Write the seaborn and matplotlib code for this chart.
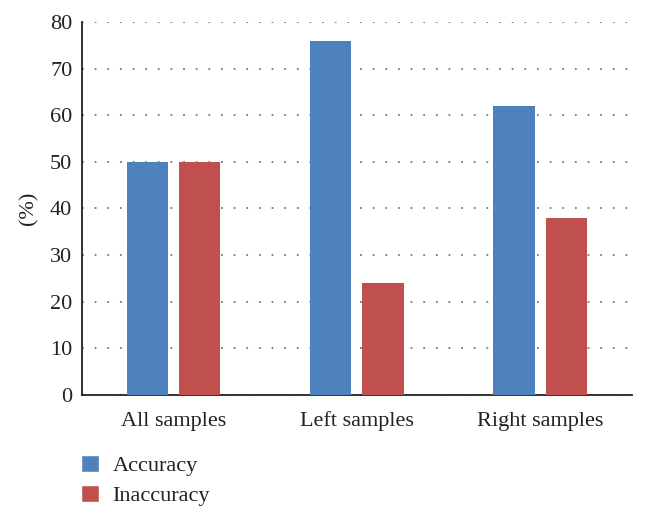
import pandas as pd
import seaborn as sns
import matplotlib.pyplot as plt
from matplotlib.patches import Patch

# Datos
categorias = ["All samples", "Left samples", "Right samples"]
accuracy = [50, 76, 62]
inaccuracy = [50, 24, 38]
series = ["Accuracy", "Inaccuracy"]
colores = {"Accuracy": "#4F81BD", "Inaccuracy": "#C0504D"}

df = pd.DataFrame({
    "Muestra": categorias * 2,
    "Valor": accuracy + inaccuracy,
    "Serie": [series[0]] * 3 + [series[1]] * 3,
})

sns.set_theme(style="white")
plt.rcParams["font.family"] = ["Liberation Serif", "DejaVu Serif"]

fig = plt.figure(figsize=(6.46, 5.21), dpi=100)
ax = fig.add_axes([0.127, 0.242, 0.851, 0.716])

sns.barplot(data=df, x="Muestra", y="Valor", hue="Serie", palette=colores,
            width=0.57, gap=0.21, saturation=1, ax=ax, legend=False,
            linewidth=0, zorder=3)

ax.set_ylim(0, 80)
ax.set_xlim(-0.5, 2.5)
ax.set_yticks(range(0, 81, 10))
ax.yaxis.grid(True, linestyle=(0, (1, 6)), color="#777777", linewidth=1.3)
ax.set_axisbelow(True)
ax.tick_params(axis="y", length=0, labelsize=16, colors="#222222", pad=7)
ax.tick_params(axis="x", length=0, labelsize=16, colors="#222222", pad=12)
ax.set_xlabel("")
ax.set_ylabel("(%)", fontsize=16, labelpad=8, color="#222222")

for lado in ["top", "right"]:
    ax.spines[lado].set_visible(False)
for lado in ["left", "bottom"]:
    ax.spines[lado].set_color("#222222")
    ax.spines[lado].set_linewidth(1.3)

handles = [Patch(facecolor=colores[s], label=s) for s in series]
fig.legend(handles=handles, loc="upper left", bbox_to_anchor=(0.095, 0.165),
           frameon=False, fontsize=16, handlelength=0.8, handleheight=0.8,
           labelspacing=0.4, handletextpad=0.6, labelcolor="#222222")

fig.savefig("out.png", dpi=100)
